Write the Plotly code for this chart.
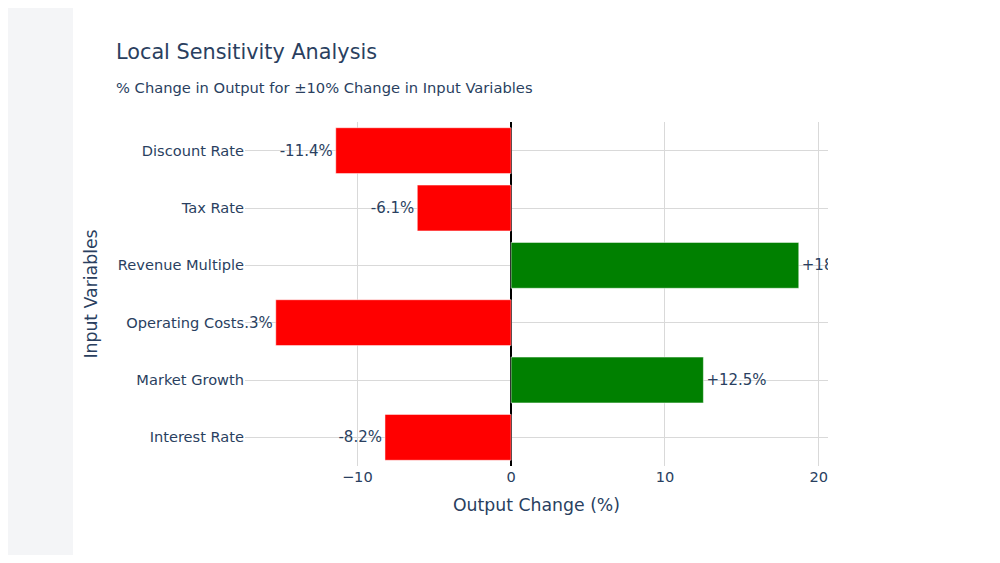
import plotly.graph_objects as go

# input variables, listed bottom -> top as plotly draws them
variables = ["Interest Rate", "Market Growth", "Operating Costs",
             "Revenue Multiple", "Tax Rate", "Discount Rate"]
changes = [-8.2, 12.5, -15.3, 18.7, -6.1, -11.4]

# page has an 8px body margin, so the figure sits at (8, 8)
OFF = 8
W, H = 1000 - 2 * OFF, 563 - 2 * OFF
L, R, T, B = 245 - OFF, 1000 - 828 - OFF, 122 - OFF, 563 - 466 - OFF
FONT = "Verdana, DejaVu Sans, sans-serif"
INK = "#2a3f5f"


def px_to_paper_x(px):
    return (px - OFF - L) / (W - L - R)


def px_to_paper_y(py):
    return 1 - (py - OFF - T) / (H - T - B)


colors = ["green" if v > 0 else "red" for v in changes]
labels = [f"{v:+.1f}%" for v in changes]

fig = go.Figure(go.Bar(
    x=changes,
    y=variables,
    orientation="h",
    marker=dict(color=colors),
    text=labels,
    textposition="outside",
    textfont=dict(size=15, color=INK),
    hoverinfo="skip",
))

fig.update_layout(
    template="plotly_white",
    width=W,
    height=H,
    margin=dict(l=L, r=R, t=T, b=B),
    font=dict(family=FONT, color=INK),
    showlegend=False,
    title=dict(text="Local Sensitivity Analysis", x=(116 - OFF) / W, xanchor="left",
               y=1 - (52 - OFF) / H, yanchor="middle", font=dict(size=20.8)),
    annotations=[dict(
        text="% Change in Output for ±10% Change in Input Variables",
        xref="paper", yref="paper", x=px_to_paper_x(114), xanchor="left",
        y=px_to_paper_y(87), yanchor="middle",
        showarrow=False, font=dict(size=14.7, color=INK),
    )],
    # soft grey strip seen at the left edge of the screenshot
    shapes=[dict(
        type="rect", xref="paper", yref="paper", layer="below",
        x0=px_to_paper_x(0), x1=px_to_paper_x(73),
        y0=px_to_paper_y(563), y1=px_to_paper_y(0),
        fillcolor="#f4f5f7", line=dict(width=0),
    )],
)

fig.update_xaxes(
    title=dict(text="Output Change (%)", font=dict(size=17.3)),
    tickfont=dict(size=14.6),
    dtick=10,
    showgrid=True, gridcolor="#d9d9d9",
    zeroline=True, zerolinecolor="black", zerolinewidth=2,
    range=[-17.3, 20.6],
)
fig.update_yaxes(
    title=dict(text="Input Variables", font=dict(size=17.3)),
    tickfont=dict(size=14.6),
    showgrid=True, gridcolor="#d9d9d9",
)

fig.write_html("out.html")
